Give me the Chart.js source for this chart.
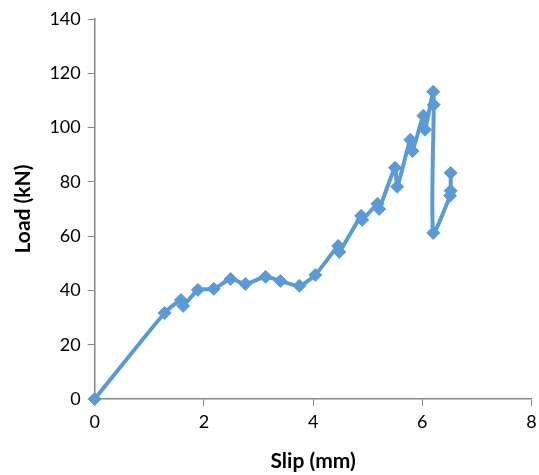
<!DOCTYPE html>
<html>
<head>
<meta charset="utf-8">
<script src="https://cdn.jsdelivr.net/npm/chart.js@4"></script>
<style>
  html, body { margin: 0; padding: 0; background: #fff; }
</style>
</head>
<body>
<canvas id="mycanvas" width="539" height="475"></canvas>
<script>
// slip (mm) and load (kN) in drawing order
var slip = [0, 1.28, 1.58, 1.62, 1.89, 2.18, 2.49, 2.76, 3.13, 3.40, 3.75, 4.04,
            4.46, 4.48, 4.88, 4.90, 5.18, 5.21, 5.50, 5.54, 5.78, 5.82, 6.02, 6.05,
            6.20, 6.21, 6.20, 6.51, 6.52, 6.52];
var load = [0, 31.7, 36.5, 34.3, 40.2, 40.6, 44.2, 42.4, 45.0, 43.5, 41.7, 45.7,
            56.4, 54.2, 67.5, 66.0, 71.9, 70.0, 85.2, 78.2, 95.5, 91.4, 104.4, 99.2,
            113.2, 108.4, 61.2, 74.9, 76.7, 83.3];
var xTicks = [0, 2, 4, 6, 8];
var yTicks = [0, 20, 40, 60, 80, 100, 120, 140];

var blue = '#5B9BD5';
var axisGrey = '#868686';

var points = [];
for (var i = 0; i < slip.length; i++) {
    points.push({x: slip[i], y: load[i]});
}

var tickFont = {family: 'Lato', size: 18};
var titleFont = {family: 'Lato', size: 21, weight: 'bold'};

var ctx = document.getElementById('mycanvas');
var myChart = new Chart(ctx, {
    type: 'line',
    data: {
        datasets: [{
            label: 'Load',
            data: points,
            borderColor: blue,
            backgroundColor: blue,
            borderWidth: 4,
            pointStyle: 'rectRot',
            pointRadius: 6.5,
            pointHoverRadius: 6.5,
            pointBorderWidth: 1,
            tension: 0.2,
            fill: false,
            clip: false
        }]
    },
    options: {
        responsive: false,
        animation: false,
        layout: {padding: {top: 19, right: 6, left: 0, bottom: 0}},
        plugins: {
            legend: {display: false},
            tooltip: {enabled: false}
        },
        scales: {
            x: {
                type: 'linear',
                min: xTicks[0],
                max: xTicks[xTicks.length - 1],
                afterBuildTicks: function(s) { s.ticks = xTicks.map(function(v) { return {value: v}; }); },
                afterFit: function(s) { s.height = 76; s.paddingRight = 0; s.paddingLeft = 0; },
                grid: {drawOnChartArea: false, color: axisGrey, tickLength: 7},
                border: {color: axisGrey, width: 1.5},
                ticks: {color: '#000', font: tickFont, padding: 5, maxRotation: 0},
                title: {display: true, text: 'Slip (mm)', color: '#000', font: titleFont, padding: {top: 0, bottom: 1}}
            },
            y: {
                type: 'linear',
                min: yTicks[0],
                max: yTicks[yTicks.length - 1],
                afterBuildTicks: function(s) { s.ticks = yTicks.map(function(v) { return {value: v}; }); },
                afterFit: function(s) { s.width = 94.7; s.paddingTop = 0; s.paddingBottom = 0; },
                grid: {drawOnChartArea: false, color: axisGrey, tickLength: 7},
                border: {color: axisGrey, width: 1.5},
                ticks: {color: '#000', font: tickFont, padding: 7},
                title: {display: true, text: 'Load (kN)', color: '#000', font: titleFont, padding: {top: 11, bottom: 0}}
            }
        }
    }
});
</script>
</body>
</html>
